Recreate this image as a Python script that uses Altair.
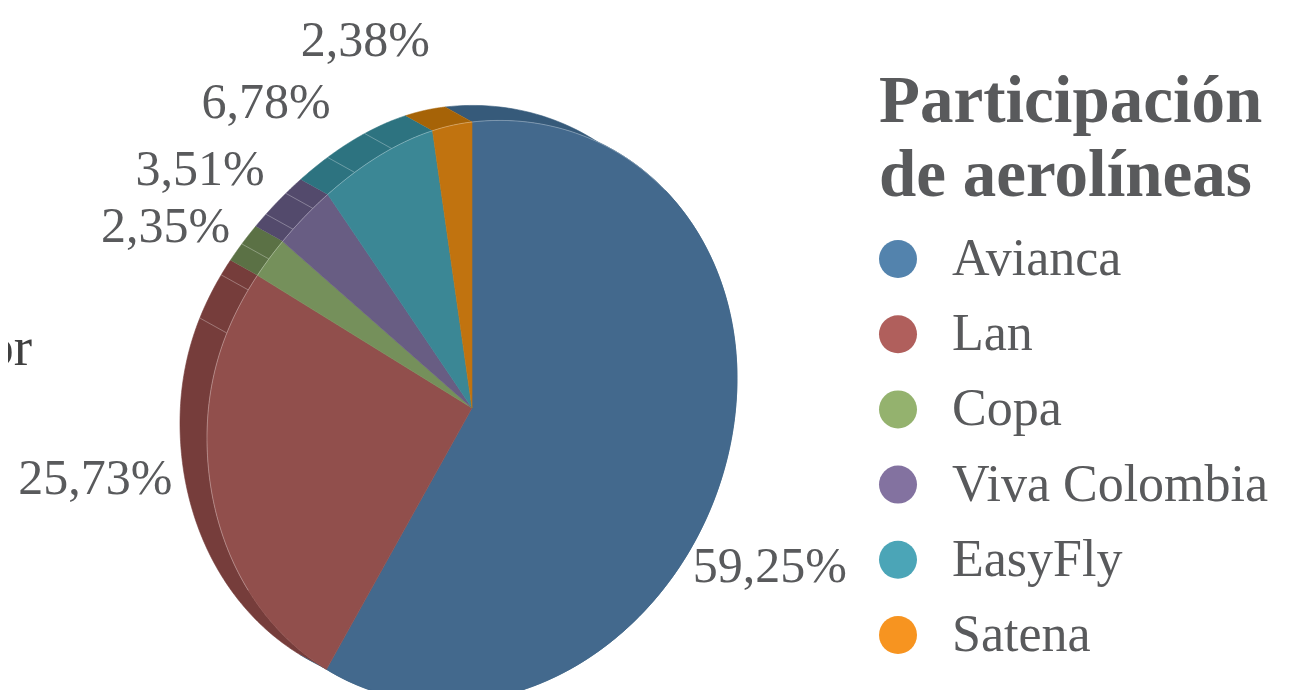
import numpy as np
import pandas as pd
import altair as alt

airlines = ["Avianca", "Lan", "Copa", "Viva Colombia", "EasyFly", "Satena"]
shares = [59.25, 25.73, 2.35, 3.51, 6.78, 2.38]
share_labels = ["59,25%", "25,73%", "2,35%", "3,51%", "6,78%", "2,38%"]
face_colors = ["#43698d", "#914f4c", "#75905b", "#685d83", "#3b8795", "#c1730f"]
side_colors = ["#365a7a", "#763d3b", "#5b7145", "#534a6c", "#2d7380", "#a66307"]
legend_colors = ["#5383ad", "#b05f5c", "#94b26e", "#8372a0", "#4ba5b7", "#f79420"]
side_seams = [81.2, 84.0, 86.1, 88.2, 89.75, 92.7, 95.1]
label_nudges = [(44, 104), (-116, -11), (-104, -31), (-104, -47), (-112, -54), (-87, -84)]

FONT = "Liberation Serif"
GREY = "#595a5c"
CX, CY = 472, 408
DEPTH = (-27, -15)


def pie_xy(pct, shift=(0, 0)):
    t = np.radians(np.asarray(pct, dtype=float) * 3.6)
    s, c = np.sin(t), np.cos(t)
    # projected disc: perspective stretches the near half, flattens the upper-left quadrant
    bend = np.where((s < 0) & (c > 0), 12 * np.sin(2 * t) ** 2, 0.0)
    ry = np.where(c > 0, 286, 293)
    return CX + 265 * s + shift[0], CY - 30 * s - ry * c + bend + shift[1]


def path_df(xs, ys):
    return pd.DataFrame({"x": xs, "y": ys, "i": range(len(xs))})


X = alt.X("x:Q", scale=alt.Scale(domain=[8, 1306]), axis=None)
Y = alt.Y("y:Q", scale=alt.Scale(domain=[690, 8]), axis=None)


def poly(df, fill, stroke=None, sw=0.6):
    return alt.Chart(df).mark_line(
        fill=fill, stroke=stroke or fill, strokeWidth=sw, clip=True, interpolate="linear"
    ).encode(x=X, y=Y, order="i:Q")


def stroke_path(df, sw=1, opacity=0.35, color="#ffffff"):
    return alt.Chart(df).mark_line(
        stroke=color, strokeWidth=sw, strokeOpacity=opacity, clip=True
    ).encode(x=X, y=Y, order="i:Q")


edges = np.concatenate([[0], np.cumsum(shares)])
edges[-1] = 100
layers = []

# hidden anchor that carries the legend
legend_df = pd.DataFrame({"Aerolínea": airlines, "x": [CX] * 6, "y": [CY] * 6})
layers.append(
    alt.Chart(legend_df).mark_circle(size=1, opacity=1).encode(
        x=X, y=Y,
        color=alt.Color(
            "Aerolínea:N",
            sort=airlines,
            scale=alt.Scale(domain=airlines, range=legend_colors),
            legend=alt.Legend(
                title=["Participación", "de aerolíneas"],
                orient="none", legendX=871, legendY=61,
                symbolType="circle", symbolSize=1444, symbolStrokeWidth=0,
                symbolOpacity=1, symbolOffset=-7,
                labelFont=FONT, labelFontSize=52, labelColor=GREY, labelOffset=28,
                labelLimit=500,
                titleFont=FONT, titleFontSize=67, titleFontWeight="bold", titleColor=GREY,
                titleLineHeight=74, titlePadding=23, titleLimit=500,
                rowPadding=23.2, padding=0,
            ),
        ),
    )
)

# extruded side bands
for k in range(6):
    p = np.linspace(edges[k], edges[k + 1], 160)
    fx, fy = pie_xy(p)
    bx, by = pie_xy(p, DEPTH)
    layers.append(poly(path_df(np.r_[bx, fx[::-1]], np.r_[by, fy[::-1]]), side_colors[k]))

# faint seams on the side
for s in side_seams:
    fx, fy = pie_xy([s])
    bx, by = pie_xy([s], DEPTH)
    layers.append(stroke_path(path_df([fx[0], bx[0]], [fy[0], by[0]]), opacity=0.3))

# front wedges
for k in range(6):
    p = np.linspace(edges[k], edges[k + 1], 240)
    fx, fy = pie_xy(p)
    layers.append(poly(path_df(np.r_[CX, fx, CX], np.r_[CY, fy, CY]), face_colors[k]))

# faint rim on the front edge
for lo, hi in [(66, 100), (0, 13)]:
    rx, ry = pie_xy(np.linspace(lo, hi, 200))
    layers.append(stroke_path(path_df(rx, ry), sw=1, opacity=0.3))

# percentage labels
mids = (edges[:-1] + edges[1:]) / 2
mx, my = pie_xy(mids)
label_df = pd.DataFrame({
    "label": share_labels,
    "x": mx + np.array([n[0] for n in label_nudges]),
    "y": my + np.array([n[1] for n in label_nudges]),
})
layers.append(
    alt.Chart(label_df).mark_text(
        font=FONT, fontSize=50, color=GREY, align="center", baseline="middle"
    ).encode(x=X, y=Y, text="label:N")
)

# clipped fragment of a text at the left edge
frag_df = pd.DataFrame({"t": ["or"], "x": [32], "y": [348]})
layers.append(
    alt.Chart(frag_df).mark_text(
        font=FONT, fontSize=55, color="#404040", align="right", baseline="middle"
    ).encode(x=X, y=Y, text="t:N")
)

chart = alt.layer(*layers).properties(
    width=1298, height=682, padding=0,
    autosize=alt.AutoSizeParams(type="none"),
).configure_view(stroke=None)

chart.save("out.html", embed_options={"renderer": "svg", "actions": False})
